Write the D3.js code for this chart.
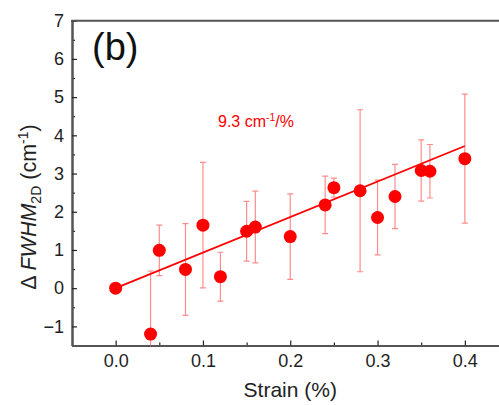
<!DOCTYPE html>
<html>
<head>
<meta charset="utf-8">
<script src="https://cdn.jsdelivr.net/npm/d3@7"></script>
<style>
body { margin:0; background:#fff; }
svg { display:block; font-family: Arial, "Liberation Sans", sans-serif; }
</style>
</head>
<body>
<script>
// values
var strain = [0, 0.04, 0.05, 0.08, 0.10, 0.12, 0.15, 0.16, 0.20, 0.24, 0.25, 0.28, 0.30, 0.32, 0.35, 0.36, 0.40];
var dFwhm  = [0, -1.20, 0.99, 0.49, 1.65, 0.30, 1.49, 1.60, 1.35, 2.18, 2.63, 2.55, 1.85, 2.40, 3.08, 3.06, 3.39];
var errBar = [0, 1.65, 0.66, 1.20, 1.64, 0.64, 0.78, 0.94, 1.12, 0.75, 0.25, 2.12, 0.98, 0.84, 0.80, 0.70, 1.69];
var xTicks = [0, 0.1, 0.2, 0.3, 0.4];
var xMinor = [-0.05, 0.05, 0.15, 0.25, 0.35, 0.45];
var yTicks = [-1, 0, 1, 2, 3, 4, 5, 6, 7];
var yMinor = [-1.5, -0.5, 0.5, 1.5, 2.5, 3.5, 4.5, 5.5, 6.5];
var slope = 9.3;
var fitRange = [0, 0.4];
var slopeLabel = "9.3 cm";

var W = 499, H = 405;
var mLeft = 72, mTop = 20.7, mBottom = 345.5;
var axisCol = "#555";

var svg = d3.select("body").append("svg")
    .attr("width", W)
    .attr("height", H);

var x = d3.scaleLinear().domain([-0.05, 0.45]).range([mLeft, mLeft + 0.5 * 873]);
var y = d3.scaleLinear().domain([-1.5, 7]).range([mBottom, mTop]);

svg.append("clipPath").attr("id", "plot")
    .append("rect")
    .attr("x", mLeft).attr("y", mTop)
    .attr("width", W - mLeft).attr("height", mBottom - mTop);

function styleAxis(g) {
    g.select(".domain").attr("stroke", axisCol).attr("stroke-width", 2);
    g.selectAll(".tick line").attr("stroke", "#222").attr("stroke-width", 1.2);
    g.selectAll(".tick text").attr("fill", "#222").attr("font-size", 18).attr("font-family", "Arial, 'Liberation Sans', sans-serif");
}

// minor ticks
svg.append("g")
    .attr("transform", "translate(0," + mBottom + ")")
    .call(d3.axisBottom(x).tickValues(xMinor).tickFormat("").tickSize(-3).tickSizeOuter(0))
    .call(styleAxis);
svg.append("g")
    .attr("transform", "translate(" + mLeft + ",0)")
    .call(d3.axisLeft(y).tickValues(yMinor).tickFormat("").tickSize(-3).tickSizeOuter(0))
    .call(styleAxis);

// major ticks
svg.append("g")
    .attr("transform", "translate(0," + mBottom + ")")
    .call(d3.axisBottom(x).tickValues(xTicks).tickFormat(d3.format(".1f")).tickSize(-5).tickSizeOuter(0).tickPadding(9))
    .call(styleAxis);
svg.append("g")
    .attr("transform", "translate(" + mLeft + ",0)")
    .call(d3.axisLeft(y).tickValues(yTicks).tickFormat(d3.format("d")).tickSize(-5).tickSizeOuter(0).tickPadding(8))
    .call(styleAxis);

// top border of the frame
svg.append("line")
    .attr("x1", mLeft - 1).attr("x2", W)
    .attr("y1", mTop).attr("y2", mTop)
    .attr("stroke", axisCol).attr("stroke-width", 2);

var pts = strain.map(function(s, i) { return { x: s, y: dFwhm[i], e: errBar[i] }; });

var plot = svg.append("g").attr("clip-path", "url(#plot)");

// error bars
var eb = plot.selectAll("g.err")
    .data(pts.filter(function(d) { return d.e > 0; }))
    .enter().append("g").attr("class", "err")
    .attr("stroke", "#ff8c8c").attr("stroke-width", 1.2);
eb.append("line")
    .attr("x1", (d) => x(d.x)).attr("x2", (d) => x(d.x))
    .attr("y1", (d) => y(d.y + d.e)).attr("y2", (d) => y(d.y - d.e));
eb.append("line")
    .attr("x1", (d) => x(d.x) - 3).attr("x2", (d) => x(d.x) + 3)
    .attr("y1", (d) => y(d.y + d.e)).attr("y2", (d) => y(d.y + d.e));
eb.append("line")
    .attr("x1", (d) => x(d.x) - 3).attr("x2", (d) => x(d.x) + 3)
    .attr("y1", (d) => y(d.y - d.e)).attr("y2", (d) => y(d.y - d.e));

// linear fit
plot.append("line")
    .attr("x1", x(fitRange[0])).attr("y1", y(slope * fitRange[0]))
    .attr("x2", x(fitRange[1])).attr("y2", y(slope * fitRange[1]))
    .attr("stroke", "#ff0000").attr("stroke-width", 1.8);

plot.selectAll("circle")
    .data(pts)
    .enter().append("circle")
    .attr("cx", (d) => x(d.x))
    .attr("cy", (d) => y(d.y))
    .attr("r", 6.5)
    .attr("fill", "#ff0000");

// slope annotation
var ann = svg.append("text")
    .attr("x", 218).attr("y", 127)
    .attr("fill", "#ff0000").attr("font-size", 16);
ann.append("tspan").text(slopeLabel);
ann.append("tspan").attr("font-size", 10.5).attr("dy", -6).text("-1");
ann.append("tspan").attr("dy", 6).text("/%");

// panel label
svg.append("text")
    .attr("x", 92).attr("y", 60)
    .attr("font-size", 38).attr("fill", "#111")
    .text("(b)");

// axis titles
svg.append("text")
    .attr("x", x(0.2)).attr("y", 397)
    .attr("text-anchor", "middle")
    .attr("font-size", 21).attr("fill", "#222")
    .text("Strain (%)");

var yl = svg.append("text")
    .attr("transform", "translate(36," + 207 + ") rotate(-90)")
    .attr("text-anchor", "middle")
    .attr("font-size", 21.5).attr("fill", "#222");
yl.append("tspan").text("\u0394 ");
yl.append("tspan").attr("font-style", "italic").text("FWHM");
yl.append("tspan").attr("font-size", 14).attr("dy", 5).text("2D");
yl.append("tspan").attr("dy", -5).text(" (cm");
yl.append("tspan").attr("font-size", 14).attr("dy", -8).text("-1");
yl.append("tspan").attr("dy", 8).text(")");
</script>
</body>
</html>
